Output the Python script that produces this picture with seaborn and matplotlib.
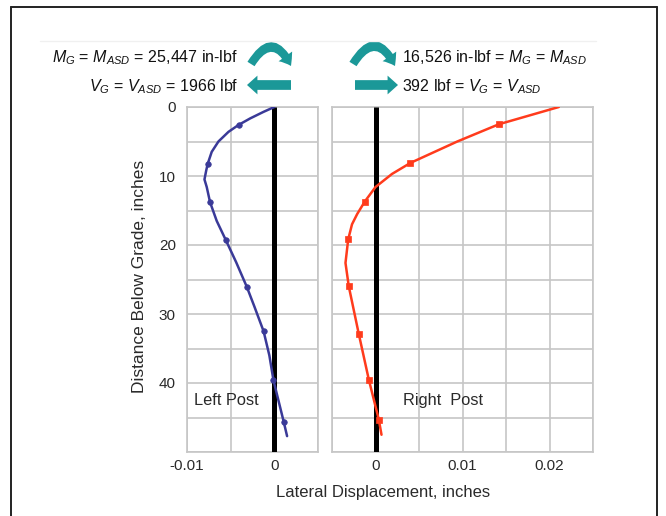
import numpy as np
import pandas as pd
import matplotlib
matplotlib.use("Agg")
import matplotlib.pyplot as plt
import seaborn as sns
from matplotlib.patches import FancyArrowPatch
from matplotlib.lines import Line2D

# ---------------- data ----------------
left_curve_x = [0.0, -0.00123, -0.00276, -0.0041, -0.00525, -0.0064, -0.00717, -0.00762, -0.0078,
                -0.0080, -0.00774, -0.00736, -0.0066, -0.00555, -0.00437, -0.00314, -0.00226,
                -0.00123, -0.00057, -0.0001, 0.00107, 0.00146]
left_curve_y = [0.0, 0.7, 1.65, 2.6, 3.6, 5.0, 6.5, 8.2, 9.2,
                10.5, 11.6, 13.8, 16.5, 19.3, 22.5, 26.1, 29.0,
                32.5, 36.0, 39.6, 45.6, 47.7]
left_mark_x = [-0.0041, -0.00762, -0.00736, -0.00555, -0.00314, -0.00123, -0.0001, 0.00107]
left_mark_y = [2.6, 8.2, 13.8, 19.3, 26.1, 32.5, 39.6, 45.6]

right_curve_x = [0.02107, 0.01418, 0.0094, 0.00402, 0.0019, 0.0, -0.00123, -0.0021, -0.0027,
                 -0.00314, -0.00345, -0.00307, -0.00192, -0.00077, 0.00038, 0.00069]
right_curve_y = [0.0, 2.5, 5.0, 8.1, 9.7, 11.6, 13.7, 15.5, 17.0,
                 19.2, 22.6, 26.0, 32.9, 39.5, 45.3, 47.5]
right_mark_x = [0.01418, 0.00402, -0.00123, -0.00314, -0.00307, -0.00192, -0.00077, 0.00038]
right_mark_y = [2.5, 8.1, 13.7, 19.2, 26.0, 32.9, 39.5, 45.3]

left_xticks = [-0.01, -0.005, 0.0, 0.005]
left_xticklabels = ["-0.01", "", "0", ""]
right_xticks = [-0.005, 0.0, 0.005, 0.01, 0.015, 0.02, 0.025]
right_xticklabels = ["", "0", "", "0.01", "", "0.02", ""]
yticks = [0, 5, 10, 15, 20, 25, 30, 35, 40, 45, 50]
yticklabels = ["0", "", "10", "", "20", "", "30", "", "40", "", ""]

left_top_texts = [r"$M_G$ = $M_{ASD}$ = 25,447 in-lbf", r"$V_G$ = $V_{ASD}$ = 1966 lbf"]
right_top_texts = [r"16,526 in-lbf = $M_G$ = $M_{ASD}$", r"392 lbf = $V_G$ = $V_{ASD}$"]

# ---------------- style ----------------
sns.set_theme(style="whitegrid")
plt.rcParams["font.family"] = ["Liberation Sans", "DejaVu Sans"]
plt.rcParams["mathtext.fontset"] = "custom"
plt.rcParams["mathtext.rm"] = "Liberation Sans"
plt.rcParams["mathtext.it"] = "Liberation Sans:italic"
plt.rcParams["mathtext.bf"] = "Liberation Sans:bold"

BLUE = "#3a3a98"
RED = "#ff3b1c"
TEAL = "#1b9898"
GRID = "#c6c6c6"
TXT = "#2a2a2a"

W, H = 666, 516
fig = plt.figure(figsize=(W / 100, H / 100), dpi=100)
fig.patch.set_facecolor("white")


def fx(px):
    return px / W


def fy(py):
    return 1 - py / H


axL = fig.add_axes([fx(187), fy(452), (318 - 187) / W, (452 - 107) / H])
axR = fig.add_axes([fx(332), fy(452), (593 - 332) / W, (452 - 107) / H])

dfL = pd.DataFrame({"x": left_curve_x, "y": left_curve_y})
dfLm = pd.DataFrame({"x": left_mark_x, "y": left_mark_y})
dfR = pd.DataFrame({"x": right_curve_x, "y": right_curve_y})
dfRm = pd.DataFrame({"x": right_mark_x, "y": right_mark_y})

for ax, dfc, dfm, col, mk, xt, xtl, xl in [
    (axL, dfL, dfLm, BLUE, "o", left_xticks, left_xticklabels, (-0.01, 0.005)),
    (axR, dfR, dfRm, RED, "s", right_xticks, right_xticklabels, (-0.005, 0.025)),
]:
    ax.set_facecolor("white")
    ax.axvline(0, color="black", lw=3.6, zorder=3, solid_capstyle="butt")
    sns.lineplot(data=dfc, x="x", y="y", sort=False, estimator=None, ax=ax,
                 color=col, lw=1.8, zorder=4)
    for ln in ax.get_lines()[1:]:
        ln.set_solid_joinstyle("round")
    sns.scatterplot(data=dfm, x="x", y="y", ax=ax, color=col, marker=mk,
                    s=16, edgecolor=col, linewidth=0.5, zorder=5)
    ax.set_xlim(*xl)
    ax.set_ylim(50, 0)
    ax.set_xticks(xt)
    ax.set_xticklabels(xtl)
    ax.set_yticks(yticks)
    ax.grid(True, color=GRID, lw=1.2)
    for s in ax.spines.values():
        s.set_color(GRID)
        s.set_linewidth(1.2)
    ax.tick_params(length=0, labelsize=11, colors=TXT, pad=5)
    ax.set_xlabel("")
    ax.set_ylabel("")

axL.set_yticklabels(yticklabels)
axL.tick_params(axis="y", pad=8)
axR.set_yticklabels([])

axL.text(-0.0092, 42.6, "Left Post", fontsize=11.8, color=TXT, va="center", ha="left")
axR.text(0.0032, 42.6, "Right  Post", fontsize=11.8, color=TXT, va="center", ha="left")

fig.text(fx(383), fy(493), "Lateral Displacement, inches", fontsize=12, color=TXT,
         ha="center", va="center")
fig.text(fx(139), fy(276), "Distance Below Grade, inches", fontsize=12.5, color=TXT,
         ha="center", va="center", rotation=90)

# top annotations
fig.text(fx(238), fy(58), left_top_texts[0], fontsize=11.5, color="#111111", ha="right", va="center")
fig.text(fx(238), fy(87), left_top_texts[1], fontsize=11.5, color="#111111", ha="right", va="center")
fig.text(fx(402), fy(58), right_top_texts[0], fontsize=11.5, color="#111111", ha="left", va="center")
fig.text(fx(402), fy(87), right_top_texts[1], fontsize=11.5, color="#111111", ha="left", va="center")

# arrows
def arrow(p0, p1, style, rad=0.0, ms=10):
    a = FancyArrowPatch((fx(p0[0]), fy(p0[1])), (fx(p1[0]), fy(p1[1])),
                        transform=fig.transFigure, arrowstyle=style,
                        connectionstyle=f"arc3,rad={rad}", color=TEAL,
                        mutation_scale=ms, lw=0, shrinkA=0, shrinkB=0)
    fig.add_artist(a)

curved = "simple,head_length=0.8,head_width=1.2,tail_width=0.6"
straight = "simple,head_length=0.75,head_width=1.35,tail_width=0.7"
arrow((251, 64), (291, 66), curved, rad=-0.9)
arrow((353, 64), (395, 66), curved, rad=-0.9)
arrow((291, 85), (247, 85), straight)
arrow((355, 85), (398, 85), straight)

# frame and faint rule
fig.add_artist(Line2D([fx(11), fx(11)], [fy(7), 0], transform=fig.transFigure, color="#222222", lw=1.4))
fig.add_artist(Line2D([fx(657), fx(657)], [fy(7), 0], transform=fig.transFigure, color="#222222", lw=1.4))
fig.add_artist(Line2D([fx(11), fx(657)], [fy(7), fy(7)], transform=fig.transFigure, color="#222222", lw=1.4))
fig.add_artist(Line2D([fx(40), fx(596)], [fy(41), fy(41)], transform=fig.transFigure, color="#f0f0f0", lw=1.0))

fig.savefig("out.png", dpi=100, facecolor="white")
